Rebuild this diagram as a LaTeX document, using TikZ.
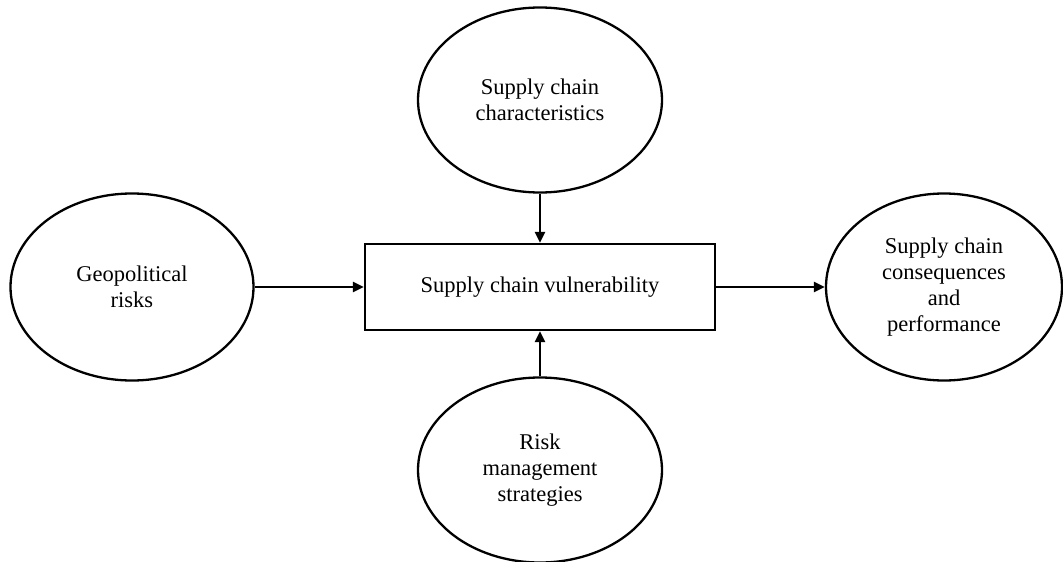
\documentclass[tikz,border=0pt]{standalone}
\usepackage{fontspec}
\setmainfont{Liberation Serif}
\usetikzlibrary{shapes.geometric,arrows.meta}
\begin{document}
\begin{tikzpicture}[x=1pt,y=-1pt,
  every node/.style={font=\fontsize{22.5}{26}\selectfont, align=center, inner sep=0pt},
  oval/.style={draw, line width=2.3pt, ellipse, minimum width=244pt, minimum height=185pt},
  box/.style={draw, line width=2.3pt, rectangle, minimum width=350pt, minimum height=86pt},
  link/.style={line width=2.3pt, -{Triangle[length=11pt,width=10pt]}}]
\useasboundingbox (0,0) rectangle (1063,562);
\node[box] (v) at (540,287) {Supply chain vulnerability};
\node[oval] (c) at (540,100) {Supply chain\\characteristics};
\node[oval, minimum width=243pt, minimum height=187pt] (g) at (132,287) {Geopolitical\\risks};
\node[oval, minimum width=236pt, minimum height=187pt] (p) at (944,287) {Supply chain\\consequences\\and\\performance};
\node[oval] (r) at (540,470) {Risk\\management\\strategies};
\draw[link] (c) -- (v);
\draw[link] (g) -- (v);
\draw[link] (v) -- (p);
\draw[link] (r) -- (v);
\end{tikzpicture}
\end{document}
